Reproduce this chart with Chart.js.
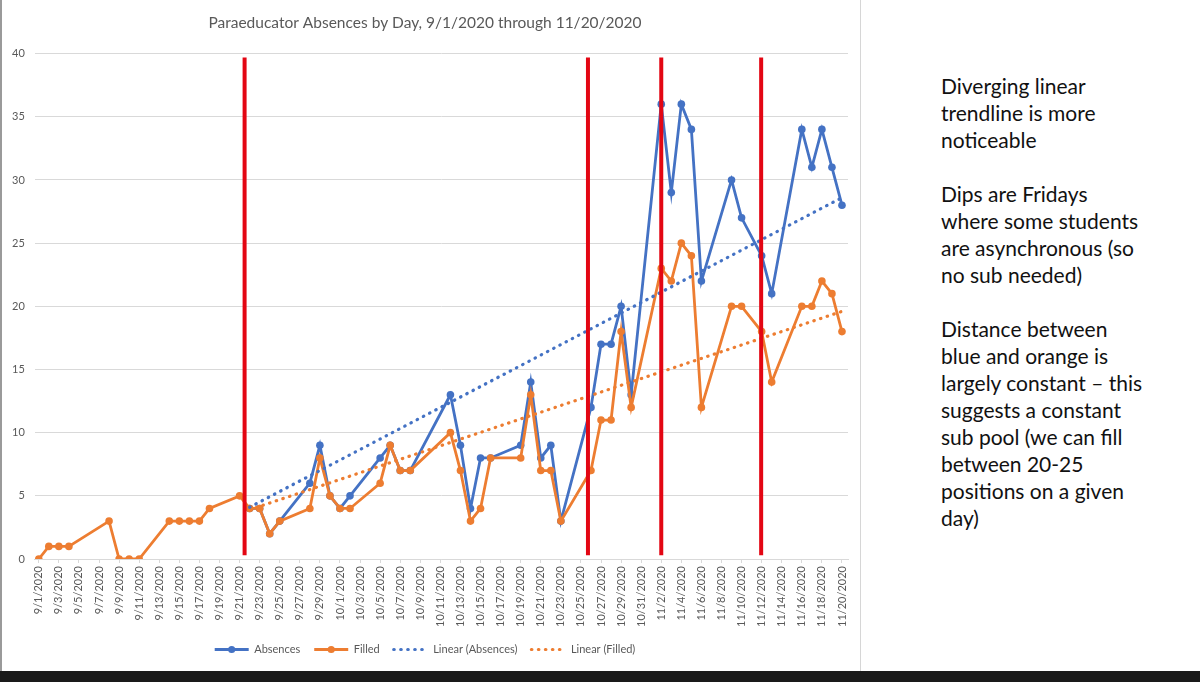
<!DOCTYPE html>
<html>
<head>
<meta charset="utf-8">
<script src="https://cdn.jsdelivr.net/npm/chart.js@4.4.1/dist/chart.umd.min.js"></script>
<style>
  html, body { margin:0; padding:0; background:#fff; }
  body { width:1200px; height:682px; position:relative; overflow:hidden; font-family: Lato, "Open Sans", sans-serif; }
  #box { position:absolute; left:0; top:0; width:861px; height:671px; border-right:1px solid #d6d6d6; border-left:2px solid #9a9a9a; box-sizing:border-box; }
  #notes { position:absolute; left:941px; top:72px; font-size:21px; line-height:27px; color:#111; white-space:nowrap; }
  #notes p { margin:0 0 27px 0; }
  #bar { position:absolute; left:0; top:671px; width:1200px; height:11px; background:#1a1a1a; }
</style>
</head>
<body>
<div id="box"><canvas id="chart"></canvas></div>
<div id="notes">
  <p>Diverging linear<br>trendline is more<br>noticeable</p>
  <p>Dips are Fridays<br>where some students<br>are asynchronous (so<br>no sub needed)</p>
  <p>Distance between<br>blue and orange is<br>largely constant – this<br>suggests a constant<br>sub pool (we can fill<br>between 20-25<br>positions on a given<br>day)</p>
</div>
<div id="bar"></div>
<script>
// days with data (school days)
const dates = ['9/1','9/2','9/3','9/4','9/8','9/9','9/10','9/11','9/14','9/15','9/16','9/17','9/18','9/21',
  '9/22','9/23','9/24','9/25','9/28','9/29','9/30','10/1','10/2','10/5','10/6','10/7','10/8','10/12','10/13',
  '10/14','10/15','10/16','10/19','10/20','10/21','10/22','10/23','10/26','10/27','10/28','10/29','10/30',
  '11/2','11/3','11/4','11/5','11/6','11/9','11/10','11/12','11/13','11/16','11/17','11/18','11/19','11/20'];
const absences = [null,null,null,null,null,null,null,null,null,null,null,null,null,null,
  4,4,2,3,6,9,5,4,5,8,9,7,7,13,9,
  4,8,8,9,14,8,9,3,12,17,17,20,13,
  36,29,36,34,22,30,27,24,21,34,31,34,31,28];
const filled = [0,1,1,1,3,0,0,0,3,3,3,3,4,5,
  4,4,2,3,4,8,5,4,4,6,9,7,7,10,7,
  3,4,8,8,13,7,7,3,7,11,11,18,12,
  23,22,25,24,12,20,20,18,14,20,20,22,21,18];
// trendline ends
const trendDates = ['9/22','11/20'];
const trendAbsences = [4.1, 28.6];
const trendFilled = [3.9, 19.6];
// red markers (day offsets from 9/1) and their span
const markerDays = [20.5, 54.7, 62, 71.95];
const markerSpan = [0.3, 39.7];
const tickLabels = ['9/1/2020','9/3/2020','9/5/2020','9/7/2020','9/9/2020','9/11/2020','9/13/2020','9/15/2020',
  '9/17/2020','9/19/2020','9/21/2020','9/23/2020','9/25/2020','9/27/2020','9/29/2020','10/1/2020','10/3/2020',
  '10/5/2020','10/7/2020','10/9/2020','10/11/2020','10/13/2020','10/15/2020','10/17/2020','10/19/2020',
  '10/21/2020','10/23/2020','10/25/2020','10/27/2020','10/29/2020','10/31/2020','11/2/2020','11/4/2020',
  '11/6/2020','11/8/2020','11/10/2020','11/12/2020','11/14/2020','11/16/2020','11/18/2020','11/20/2020'];

const BLUE = '#4472C4', ORANGE = '#ED7D31', RED = '#E30613', GREY = '#595959';

function dayOf(s){ const p = s.split('/').map(Number); return Math.round((Date.UTC(2020,p[0]-1,p[1]) - Date.UTC(2020,8,1)) / 864e5); }
const pts = (ds, vs) => ds.map((d,i)=>({ x: dayOf(d), y: vs[i] }));
const tickDays = tickLabels.map(dayOf);

const lineDs = (label, data, color, order) => ({ label, data, borderColor: color, backgroundColor: color, borderWidth: 2.8,
  pointRadius: 3.8, pointHoverRadius: 3.8, pointBorderWidth: 0, tension: 0, spanGaps: true, order });
const trendDs = (label, data, color) => ({ label, data, borderColor: color, backgroundColor: color, borderWidth: 3.2,
  borderDash: [0.5, 6.5], borderCapStyle: 'round', pointRadius: 0, tension: 0, order: 1 });

const redLines = markerDays.map(d => ({ label: '_marker', data: markerSpan.map(y=>({ x:d, y })), borderColor: RED,
  borderWidth: 4, pointRadius: 0, order: 0 }));

// round marker on the line legend symbols of the two series
const legendMarkers = {
  id: 'legendMarkers',
  afterDraw(chart){
    const lg = chart.legend; if(!lg || !lg.legendHitBoxes) return;
    const ctx = chart.ctx, bw = lg.options.labels.pointStyleWidth;
    lg.legendItems.forEach((it, i) => {
      if(it.datasetIndex > 1) return;
      const hb = lg.legendHitBoxes[i];
      ctx.save(); ctx.fillStyle = it.strokeStyle;
      ctx.beginPath(); ctx.arc(hb.left + bw/2, hb.top + hb.height/2, 3.6, 0, Math.PI*2); ctx.fill(); ctx.restore();
    });
  }
};

new Chart(document.getElementById('chart'), {
  type: 'line',
  data: { datasets: [
    lineDs('Absences', pts(dates, absences), BLUE, 3),
    lineDs('Filled', pts(dates, filled), ORANGE, 2),
    trendDs('Linear (Absences)', pts(trendDates, trendAbsences), BLUE),
    trendDs('Linear (Filled)', pts(trendDates, trendFilled), ORANGE),
    ...redLines
  ]},
  options: {
    responsive: true, maintainAspectRatio: false, animation: false,
    layout: { padding: { left: 0, right: 12, bottom: 6 } },
    plugins: {
      title: { display: true, text: 'Paraeducator Absences by Day, 9/1/2020 through 11/20/2020', color: GREY,
        font: { family: 'Lato', size: 15.5, weight: 'normal' }, padding: { top: 14, bottom: 21 } },
      legend: { position: 'bottom', labels: { color: GREY, font: { family: 'Lato', size: 11 }, usePointStyle: true,
        pointStyleWidth: 34, boxHeight: 11, padding: 14,
        generateLabels: chart => chart.data.datasets.map((ds, i) => ({
          text: ds.label, datasetIndex: i, fontColor: GREY, hidden: false,
          strokeStyle: ds.borderColor, fillStyle: ds.borderColor, lineWidth: ds.borderWidth,
          lineDash: ds.borderDash || [], lineCap: ds.borderCapStyle || 'butt', pointStyle: 'line' })),
        filter: it => it.text !== '_marker' } },
      tooltip: { enabled: false }
    },
    scales: {
      x: { type: 'linear', min: -0.4, max: 80.6,
        afterBuildTicks: ax => { ax.ticks = tickDays.map(v => ({ value: v })); },
        ticks: { autoSkip: false, minRotation: 90, maxRotation: 90, color: GREY, font: { family: 'Lato', size: 11 },
          callback: (v, i) => tickLabels[i] },
        grid: { drawOnChartArea: false, color: '#d9d9d9', tickLength: 4 },
        border: { color: '#d9d9d9' } },
      y: { min: 0, max: 40,
        ticks: { stepSize: 5, color: GREY, font: { family: 'Lato', size: 11 }, padding: 10 },
        grid: { color: '#d9d9d9', drawTicks: false, lineWidth: 1 },
        border: { display: false } }
    }
  },
  plugins: [legendMarkers]
});
</script>
</body>
</html>
